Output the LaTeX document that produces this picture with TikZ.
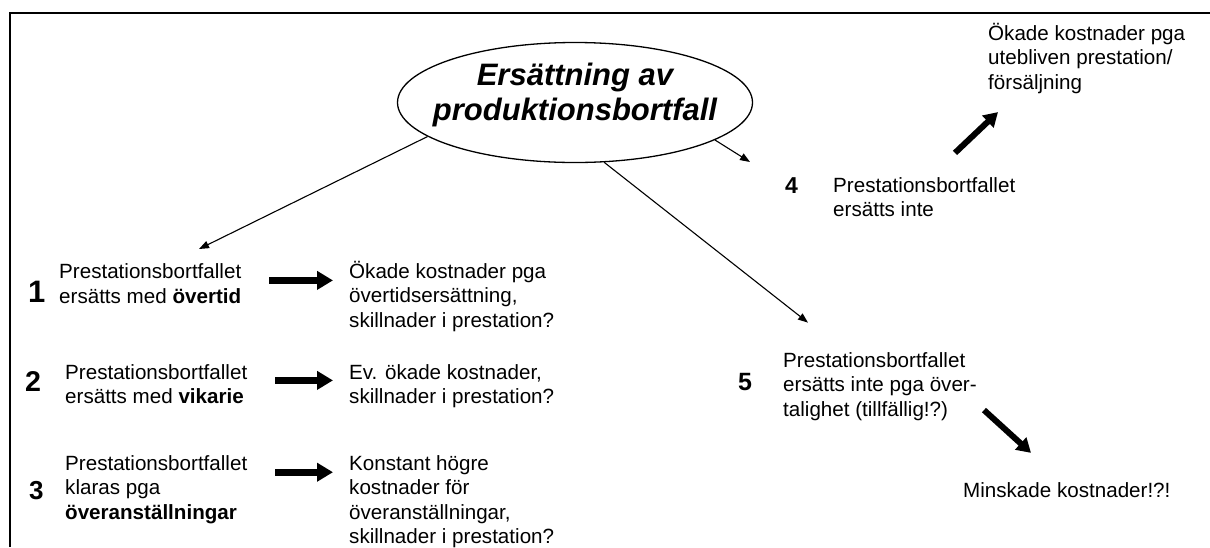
\documentclass[tikz,border=0pt]{standalone}
\usepackage{fontspec}
\setmainfont{Liberation Sans}
\usetikzlibrary{arrows.meta,shapes.geometric}
\begin{document}
\begin{tikzpicture}[x=1pt,y=-1pt,
  txt/.style={anchor=base west, align=left, inner sep=0pt, font=\fontsize{20.6}{24.5}\selectfont},
  num/.style={anchor=base west, inner sep=0pt, font=\bfseries\fontsize{#1}{#1}\selectfont},
  thinarrow/.style={line width=1.1pt, -{Triangle[length=10pt,width=7.5pt]}},
  fatarrow/.style={line width=7pt, -{Triangle[length=16pt,width=18pt]}},
  fatdiag/.style={line width=6pt, -{Triangle[length=14pt,width=16pt]}},
]
\useasboundingbox (0,0) rectangle (1210,547);
% frame (cropped)
\draw[line width=2.2pt] (10.3,547) -- (10.3,13) -- (1210,13);

% central ellipse
\node[draw, ellipse, line width=1.3pt, minimum width=355pt, minimum height=120pt, inner sep=0pt] (root) at (575,102.5) {};
\node[align=center, inner sep=0pt, anchor=base, font=\bfseries\itshape\fontsize{31}{35}\selectfont] (title) at (575,120) {Ersättning av\\produktionsbortfall};

% numbers
\node[num=31] (n1) at (28,302) {1};
\node[num=28.6] (n2) at (25,391) {2};
\node[num=26] (n3) at (29,499) {3};
\node[num=23] (n4) at (785,193) {4};
\node[num=25] (n5) at (738,390) {5};

% texts (anchor = baseline of the last line)
\node[txt] (t1) at (59,303) {Prestationsbortfallet\\ersätts med \textbf{övertid}};
\node[txt] (r1) at (349,327) {Ökade kostnader pga\\övertidsersättning,\\skillnader i prestation?};
\node[txt] (t2) at (65,403.5) {Prestationsbortfallet\\ersätts med \textbf{vikarie}};
\node[txt] (r2) at (349,403.5) {Ev. ökade kostnader,\\skillnader i prestation?};
\node[txt] (t3) at (65,519) {Prestationsbortfallet\\klaras pga\\\textbf{överanställningar}};
\node[txt] (r3) at (349,543.5) {Konstant högre\\kostnader för\\överanställningar,\\skillnader i prestation?};
\node[txt] (t4) at (833,216.5) {Prestationsbortfallet\\ersätts inte};
\node[txt] (t5) at (783,416) {Prestationsbortfallet\\ersätts inte pga över-\\talighet (tillfällig!?)};
\node[txt] (r4) at (988,89) {Ökade kostnader pga\\utebliven prestation/\\försäljning};
\node[txt] (r5) at (963,497) {Minskade kostnader!?!};

% thin connectors from the ellipse
\coordinate (e1) at (199,249);
\coordinate (e4) at (750,162);
\coordinate (e5) at (808,322.6);
\draw[thinarrow] (root.193) -- (e1);
\draw[thinarrow] (root.345) -- (e4);
\draw[thinarrow] (root.296) -- (e5);

% thick arrows
\draw[fatarrow] ([shift={(28,-3)}]t1.east) -- ([shift={(-16,-3)}]t1.east -| r1.west);
\draw[fatarrow] ([shift={(28,-3.5)}]t2.east) -- ([shift={(-16,-3.5)}]t2.east -| r2.west);
\draw[fatarrow] ([shift={(28,-17)}]t3.east) -- ([shift={(-16,-17)}]t3.east -| r3.west);
\draw[fatdiag] ([shift={(122,-24)}]t4.north west) -- ([shift={(10,18.6)}]r4.south west);
\draw[fatdiag] ([shift={(201,-10.4)}]t5.south west) -- ([shift={(68,-29)}]r5.north west);
\end{tikzpicture}
\end{document}
